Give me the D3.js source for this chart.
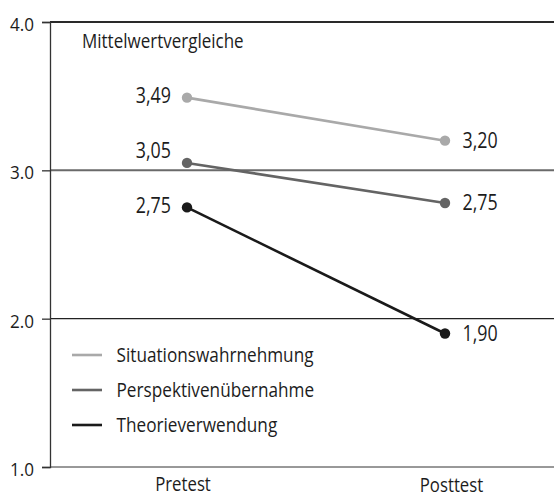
<!DOCTYPE html>
<html>
<head>
<meta charset="utf-8">
<script src="https://cdn.jsdelivr.net/npm/d3@7"></script>
<style>
  html, body { margin: 0; padding: 0; background: #fff; }
  svg { display: block; font-family: "Open Sans", "Noto Sans", sans-serif; }
</style>
</head>
<body>
<svg id="chart" width="554" height="496"></svg>
<script>
const categories = ["Pretest", "Posttest"];
const seriesNames = ["Situationswahrnehmung", "Perspektivenübernahme", "Theorieverwendung"];
const situationValues = [3.49, 3.20];
const perspektiveValues = [3.05, 2.78];
const theorieValues = [2.75, 1.90];
const situationLabels = ["3,49", "3,20"];
const perspektiveLabels = ["3,05", "2,75"];
const theorieLabels = ["2,75", "1,90"];
const yTicks = [1, 2, 3, 4];
const yTickLabels = ["1.0", "2.0", "3.0", "4.0"];
const title = "Mittelwertvergleiche";

(function () {
const SX = 0.85;           // horizontal condensing of the text face
const INK = "#1c1c1c";
const colors = ["#a9a9a9", "#646464", "#1a1a1a"];
const series = [
  { name: seriesNames[0], values: situationValues, labels: situationLabels, color: colors[0], labelShift: [0, 0] },
  { name: seriesNames[1], values: perspektiveValues, labels: perspektiveLabels, color: colors[1], labelShift: [-10.5, 0] },
  { name: seriesNames[2], values: theorieValues, labels: theorieLabels, color: colors[2], labelShift: [0, 0] }
];

const svg = d3.select("#chart");
const mLeft = 50, mRight = 554, mTop = 22, mBottom = 467;

const y = d3.scaleLinear().domain([1, 4]).range([mBottom, mTop]);
const x = d3.scalePoint().domain(categories).range([187, 445]);

// gridlines
const gridStyle = { 2: { c: "#222", w: 1.2 }, 3: { c: "#6a6a6a", w: 2 }, 4: { c: "#2a2a2a", w: 2 } };
svg.append("g").selectAll("line").data(yTicks.filter(d => d > 1)).join("line")
  .attr("x1", mLeft).attr("x2", mRight)
  .attr("y1", d => y(d)).attr("y2", d => y(d))
  .attr("stroke", d => gridStyle[d].c).attr("stroke-width", d => gridStyle[d].w);

// bottom axis line
svg.append("line").attr("x1", mLeft).attr("x2", mRight)
  .attr("y1", y(1)).attr("y2", y(1)).attr("stroke", "#333").attr("stroke-width", 1);

// y axis
const yAxis = d3.axisLeft(y).tickValues(yTicks).tickSize(8).tickPadding(8)
  .tickFormat((d, i) => yTickLabels[i]);
const gy = svg.append("g").attr("transform", `translate(${mLeft},0)`).call(yAxis);
gy.select(".domain").attr("stroke", "#333").attr("stroke-width", 1.3);
gy.selectAll(".tick line").attr("stroke", "#333").attr("stroke-width", 1.3);
gy.selectAll(".tick text").attr("font-size", 18).attr("fill", INK)
  .attr("font-family", "Open Sans, sans-serif")
  .attr("x", 0).attr("y", 0).attr("dy", 0)
  .attr("transform", "translate(-16,8.5) scale(0.95,1)");

// x labels
const xShift = [-4.5, 6];
const xBase = [23.5, 24.5];
const xAxis = d3.axisBottom(x).tickSize(0).tickPadding(0);
const gx = svg.append("g").attr("transform", `translate(0,${mBottom})`).call(xAxis);
gx.select(".domain").remove();
gx.selectAll(".tick text").attr("font-size", 19.5).attr("fill", INK)
  .attr("font-family", "Open Sans, sans-serif")
  .attr("y", 0).attr("dy", 0)
  .attr("transform", (d, i) => `translate(${xShift[i]},${xBase[i]}) scale(${SX + 0.01},1)`);

// title
svg.append("text").attr("transform", `translate(82,48) scale(${SX},1)`)
  .attr("font-size", 20).attr("fill", INK).text(title);

// lines
const line = d3.line().x((d, i) => x(categories[i])).y(d => y(d));
const gs = svg.append("g").selectAll("g").data(series).join("g");
gs.append("path").attr("d", d => line(d.values)).attr("fill", "none")
  .attr("stroke", d => d.color).attr("stroke-width", 2.6);
gs.selectAll("circle").data(d => d.values.map((v, i) => ({ v, i, c: d.color }))).join("circle")
  .attr("cx", d => x(categories[d.i])).attr("cy", d => y(d.v)).attr("r", 5.2)
  .attr("fill", d => d.c);
gs.selectAll("text.val").data(d => d.values.map((v, i) => ({ v, i, lab: d.labels[i], sh: d.labelShift[i] }))).join("text")
  .attr("class", "val")
  .attr("transform", d => {
    const px = d.i === 0 ? x(categories[0]) - 16 : x(categories[1]) + 17.5;
    const py = y(d.v) + d.sh + (d.i === 0 ? 5.5 : 7);
    return `translate(${px},${py}) scale(${SX},1)`;
  })
  .attr("text-anchor", d => d.i === 0 ? "end" : "start")
  .attr("font-size", 21).attr("fill", INK)
  .text(d => d.lab);

// legend
const lg = svg.append("g").selectAll("g").data(series).join("g")
  .attr("transform", (d, i) => `translate(72,${355 + i * 35})`);
lg.append("line").attr("x1", 0).attr("x2", 30).attr("y1", 0).attr("y2", 0)
  .attr("stroke", d => d.color).attr("stroke-width", 2.6);
lg.append("text").attr("transform", `translate(44.5,7) scale(${SX + 0.01},1)`)
  .attr("font-size", 20).attr("fill", INK).text(d => d.name);
})();
</script>
</body>
</html>
